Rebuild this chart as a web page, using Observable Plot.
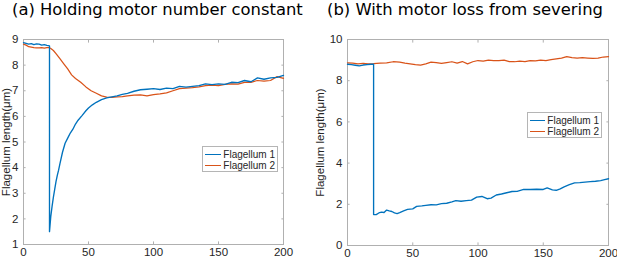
<!DOCTYPE html>
<html>
<head>
<meta charset="utf-8">
<script src="https://cdn.jsdelivr.net/npm/d3@7"></script>
<script src="https://cdn.jsdelivr.net/npm/@observablehq/plot@0.6"></script>
<style>
  html, body { margin: 0; padding: 0; background: #fff; }
  #wrap { position: relative; width: 617px; height: 259px; background: #fff; overflow: hidden; }
  .title { position: absolute; top: 0px; font-family: "DejaVu Sans", sans-serif; font-size: 16.4px; line-height: normal; color: #000; white-space: nowrap; }
  .panel { position: absolute; top: 20px; }
  .legend { position: absolute; background: #fff; border: 1px solid #b5b5b5; padding: 2px 2px; font-family: "Liberation Sans", Arial, sans-serif; font-size: 10px; color: #262626; box-sizing: border-box; }
  .legend .row { display: flex; align-items: center; height: 11px; line-height: 11px; white-space: nowrap; }
  .legend .sw { display: inline-block; width: 18px; height: 0; border-top: 1.5px solid; margin-right: 2px; }
</style>
</head>
<body>
<div id="wrap">
  <div class="title" id="titleA" style="left:12px"></div>
  <div class="title" id="titleB" style="left:327px"></div>
  <div class="panel" id="pa" style="left:0px"></div>
  <div class="panel" id="pb" style="left:310px"></div>
  <div class="legend" id="legA" style="left:202px; top:146px; width:76px; height:26px;"></div>
  <div class="legend" id="legB" style="left:527px; top:112px; width:75px; height:26px;"></div>
</div>
<script>
const titles = ["(a) Holding motor number constant", "(b) With motor loss from severing"];
const seriesNames = ["Flagellum 1", "Flagellum 2"];
const seriesColors = ["#0072BD", "#D95319"];
const yLabel = "Flagellum length(μm)";
const xTicks = [0, 50, 100, 150, 200];
const yTicksA = [1, 2, 3, 4, 5, 6, 7, 8, 9];
const yTicksB = [0, 2, 4, 6, 8, 10];

// Panel (a): holding motor number constant
const tA1 = [0,2,4,6,8,10,12,14,16,18,20,20,21,22,23,24,25,26,27,28,30,32,34,36,38,40,42,45,48,50,53,56,60,64,68,72,76,80,85,90,95,100,105,110,115,120,125,130,135,140,145,150,155,160,165,170,175,180,185,190,195,200];
const vA1 = [8.88,8.85,8.82,8.84,8.8,8.83,8.82,8.78,8.8,8.77,8.75,1.5,2.1,2.5,2.85,3.15,3.45,3.7,3.9,4.15,4.6,4.95,5.15,5.35,5.5,5.7,5.85,6.03,6.22,6.33,6.45,6.55,6.65,6.72,6.76,6.8,6.86,6.9,6.98,7.04,7.06,7.08,7.05,7.1,7.08,7.17,7.14,7.17,7.2,7.27,7.24,7.27,7.25,7.33,7.32,7.4,7.35,7.5,7.45,7.5,7.52,7.6];
const tA2 = [0,2,4,6,8,10,12,14,16,18,20,21,23,25,28,31,34,37,40,44,48,52,56,60,64,68,72,76,80,85,90,95,100,105,110,115,120,125,130,135,140,145,150,155,160,165,170,175,180,185,190,195,200];
const vA2 = [8.82,8.78,8.72,8.7,8.68,8.67,8.67,8.68,8.66,8.68,8.68,8.65,8.57,8.45,8.25,8.05,7.85,7.62,7.48,7.33,7.15,7.0,6.9,6.8,6.75,6.74,6.76,6.77,6.8,6.83,6.84,6.8,6.85,6.88,6.92,7.0,7.08,7.1,7.12,7.15,7.2,7.22,7.2,7.25,7.27,7.26,7.33,7.33,7.4,7.38,7.4,7.55,7.48];

// Panel (b): with motor loss from severing
const tB1 = [0,3,6,9,12,15,18,20,20,22,24,26,28,30,32,34,36,38,40,43,46,50,53,57,60,64,68,72,76,80,83,87,91,95,99,103,107,110,114,118,122,126,130,135,140,145,150,153,157,160,163,166,170,174,178,182,186,190,194,197,200];
const vB1 = [8.8,8.78,8.75,8.72,8.76,8.78,8.8,8.8,1.5,1.5,1.58,1.62,1.6,1.72,1.68,1.65,1.58,1.55,1.6,1.68,1.75,1.78,1.9,1.92,1.95,1.98,1.97,2.03,2.05,2.12,2.18,2.15,2.18,2.2,2.35,2.38,2.27,2.3,2.45,2.5,2.56,2.62,2.63,2.72,2.72,2.73,2.72,2.8,2.7,2.68,2.75,2.85,2.95,3.04,3.05,3.08,3.1,3.12,3.15,3.2,3.24];
const tB2 = [0,4,8,12,16,20,25,30,35,40,44,48,52,56,60,64,68,72,76,80,84,88,92,96,100,104,108,112,116,120,124,128,132,136,140,144,148,152,156,160,164,168,172,176,180,184,188,192,196,200];
const vB2 = [8.87,8.85,8.82,8.84,8.82,8.83,8.85,8.86,8.92,8.9,8.85,8.82,8.78,8.76,8.82,8.9,8.88,8.84,8.88,8.92,8.85,8.93,8.82,8.92,8.98,8.95,9.0,8.98,8.97,9.0,8.93,8.92,8.95,8.93,8.98,8.96,9.0,8.98,9.02,9.06,9.1,9.17,9.12,9.1,9.12,9.1,9.08,9.1,9.15,9.17];

const frameGray = "#b0b0b0";
const textColor = "#262626";

function toRows(t, v, s) { return t.map((x, i) => ({t: x, v: v[i], s})); }

function panel({width, marginLeft, marginRight, marginBottom, yDomain, yTicks, labelOffset, s1, s2}) {
  return Plot.plot({
    width, height: 239, marginLeft, marginRight, marginTop: 19, marginBottom,
    style: {fontFamily: "'Liberation Sans', Arial, sans-serif", fontSize: "11.5px", color: textColor, background: "transparent", overflow: "visible"},
    x: {domain: [0, 200]},
    y: {domain: yDomain},
    marks: [
      Plot.frame({stroke: frameGray}),
      Plot.axisX(xTicks, {anchor: "bottom", tickSize: 0, tickPadding: 3.5, label: null, fontSize: 11.5}),
      Plot.axisX(xTicks, {anchor: "bottom", tickSize: -2.6, text: null, label: null, stroke: frameGray}),
      Plot.axisX(xTicks, {anchor: "top", tickSize: -2.6, text: null, label: null, stroke: frameGray}),
      Plot.axisY(yTicks, {anchor: "left", tickSize: 0, tickPadding: 5, label: yLabel, labelAnchor: "center", labelArrow: "none", labelOffset, fontSize: 11.5}),
      Plot.axisY(yTicks, {anchor: "left", tickSize: -2.6, text: null, label: null, stroke: frameGray}),
      Plot.axisY(yTicks, {anchor: "right", tickSize: -2.6, text: null, label: null, stroke: frameGray}),
      Plot.line(s2, {x: "t", y: "v", stroke: seriesColors[1], strokeWidth: 1.25}),
      Plot.line(s1, {x: "t", y: "v", stroke: seriesColors[0], strokeWidth: 1.35})
    ]
  });
}

document.getElementById("titleA").textContent = titles[0];
document.getElementById("titleB").textContent = titles[1];

document.getElementById("pa").append(panel({
  width: 310, marginLeft: 23, marginRight: 27, marginBottom: 15,
  yDomain: [1, 9], yTicks: yTicksA, labelOffset: 22,
  s1: toRows(tA1, vA1, seriesNames[0]), s2: toRows(tA2, vA2, seriesNames[1])
}));
document.getElementById("pb").append(panel({
  width: 307, marginLeft: 37, marginRight: 9, marginBottom: 14,
  yDomain: [0, 10], yTicks: yTicksB, labelOffset: 32,
  s1: toRows(tB1, vB1, seriesNames[0]), s2: toRows(tB2, vB2, seriesNames[1])
}));

for (const id of ["legA", "legB"]) {
  const el = document.getElementById(id);
  seriesNames.forEach((name, i) => {
    const row = document.createElement("div");
    row.className = "row";
    const sw = document.createElement("span");
    sw.className = "sw";
    sw.style.borderTopColor = seriesColors[i];
    const tx = document.createElement("span");
    tx.textContent = name;
    row.append(sw, tx);
    el.append(row);
  });
}
</script>
</body>
</html>
